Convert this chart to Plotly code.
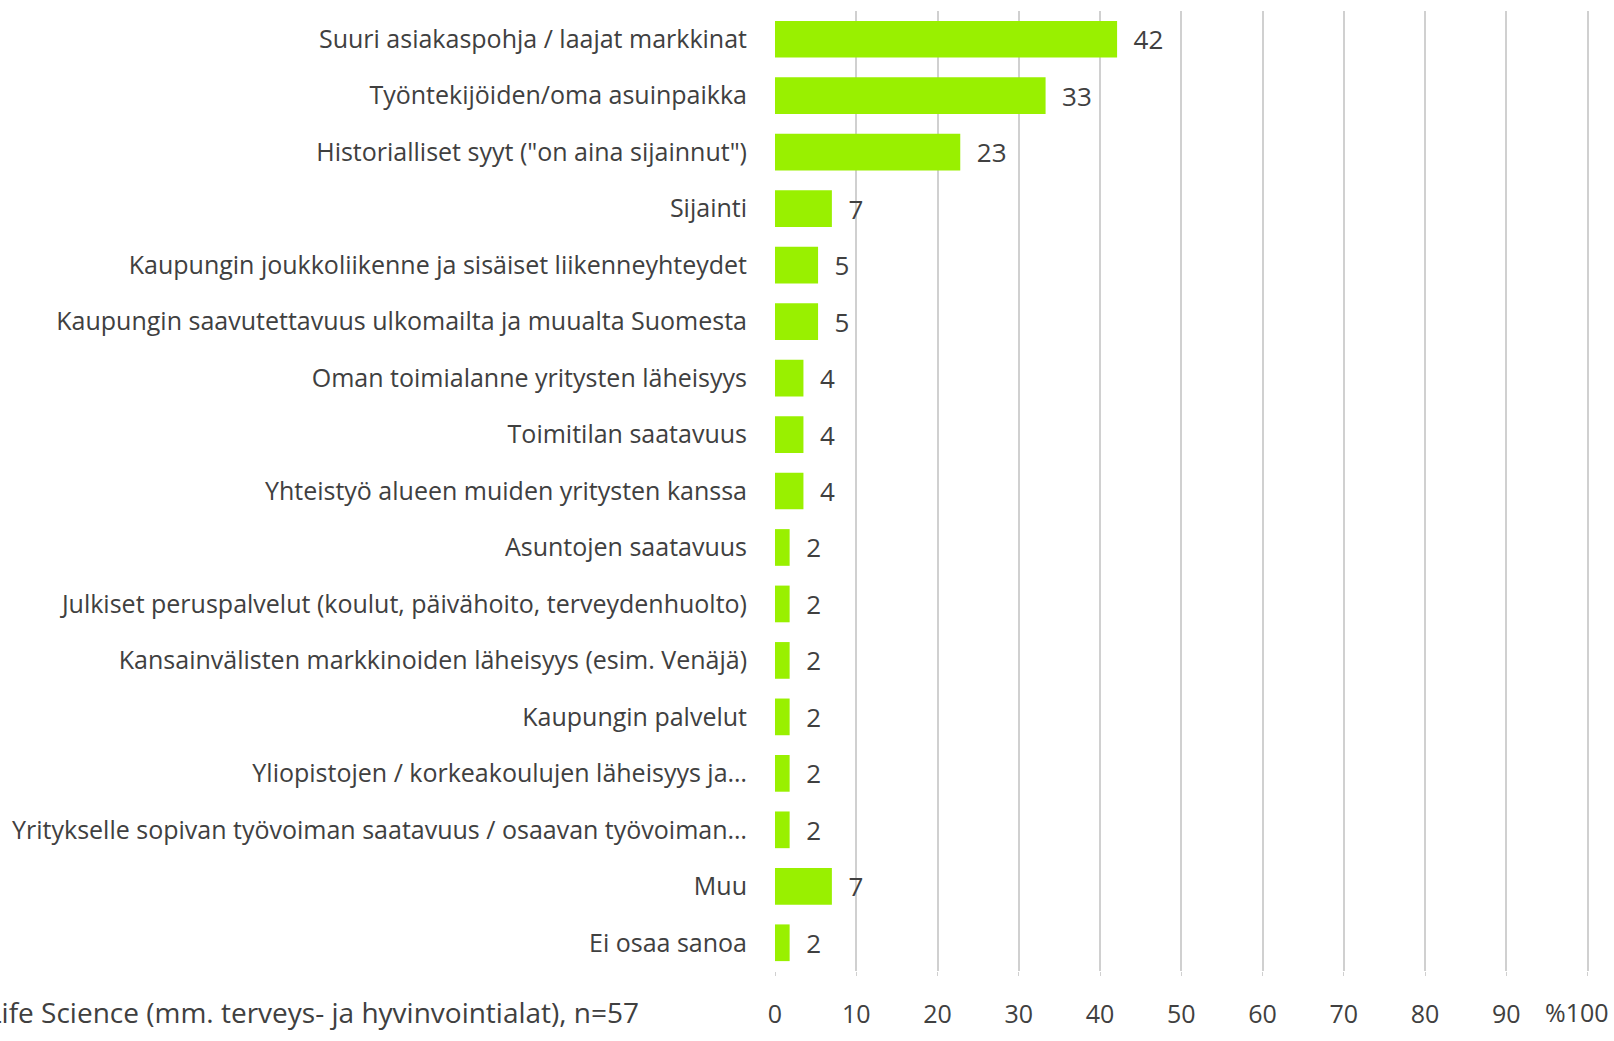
import plotly.graph_objects as go

categories = [
    "Suuri asiakaspohja / laajat markkinat",
    "Työntekijöiden/oma asuinpaikka",
    "Historialliset syyt (\"on aina sijainnut\")",
    "Sijainti",
    "Kaupungin joukkoliikenne ja sisäiset liikenneyhteydet",
    "Kaupungin saavutettavuus ulkomailta ja muualta Suomesta",
    "Oman toimialanne yritysten läheisyys",
    "Toimitilan saatavuus",
    "Yhteistyö alueen muiden yritysten kanssa",
    "Asuntojen saatavuus",
    "Julkiset peruspalvelut (koulut, päivähoito, terveydenhuolto)",
    "Kansainvälisten markkinoiden läheisyys (esim. Venäjä)",
    "Kaupungin palvelut",
    "Yliopistojen / korkeakoulujen läheisyys ja…",
    "Yritykselle sopivan työvoiman saatavuus / osaavan työvoiman…",
    "Muu",
    "Ei osaa sanoa",
]
values = [42.1, 33.3, 22.8, 7.0, 5.3, 5.3, 3.5, 3.5, 3.5, 1.8, 1.8, 1.8, 1.8, 1.8, 1.8, 7.0, 1.8]
value_labels = ["42", "33", "23", "7", "5", "5", "4", "4", "4", "2", "2", "2", "2", "2", "2", "7", "2"]
tick_vals = [0, 10, 20, 30, 40, 50, 60, 70, 80, 90, 100]
tick_text = ["0", "10", "20", "30", "40", "50", "60", "70", "80", "90", "%100"]
series_name = "Life Science (mm. terveys- ja hyvinvointialat), n=57"

FONT = "Open Sans"
TXT = "#404040"

fig = go.Figure(go.Bar(
    x=values, y=categories, orientation="h",
    marker=dict(color="#99F000", line=dict(width=0)),
    text=["  " + v for v in value_labels],
    textposition="outside", cliponaxis=False,
    textfont=dict(family=FONT, size=26, color=TXT),
    name=series_name,
))

W, H = 1614, 1041
L, R, T, B = 775, 24, 11, 58
TICK_SIZE = 25
tick_y = -(1025 - (H - B)) / (H - T - B)

# last tick label drawn as right-aligned text so it stays inside the page
shown_text = tick_text[:-1] + [""]
fig.update_layout(
    width=W, height=H,
    margin=dict(l=L, r=R, t=T, b=B),
    paper_bgcolor="white", plot_bgcolor="white",
    showlegend=False, bargap=0.35,
    font=dict(family=FONT, color=TXT),
    xaxis=dict(range=[0, 100.3], tickvals=tick_vals, ticktext=shown_text,
               showgrid=True, gridcolor="#d0d0d0", gridwidth=1.5,
               zeroline=False, showline=False,
               ticks="outside", ticklen=4, tickcolor="#d0d0d0",
               ticklabelstandoff=17,
               tickfont=dict(family=FONT, size=TICK_SIZE, color=TXT)),
    yaxis=dict(autorange="reversed", showgrid=False, zeroline=False,
               showline=False, ticks="", ticklabelstandoff=27,
               tickfont=dict(family=FONT, size=25, color=TXT)),
    annotations=[
        dict(text=series_name, xref="paper", yref="paper",
             x=(641 - L) / (W - L - R), y=tick_y,
             xanchor="right", yanchor="middle", showarrow=False,
             font=dict(family=FONT, size=28, color=TXT)),
        dict(text=tick_text[-1], xref="x", yref="paper",
             x=tick_vals[-1], y=tick_y, xanchor="right", yanchor="middle",
             xshift=23, showarrow=False,
             font=dict(family=FONT, size=TICK_SIZE, color=TXT)),
    ],
)
post = ("document.body.style.margin='0';"
        "document.documentElement.style.overflow='hidden';"
        "document.body.style.overflow='hidden';"
        "var gd=document.getElementById('{plot_id}');"
        "gd.style.overflow='hidden';")
fig.write_html("out.html", config={"displayModeBar": False}, post_script=post)
